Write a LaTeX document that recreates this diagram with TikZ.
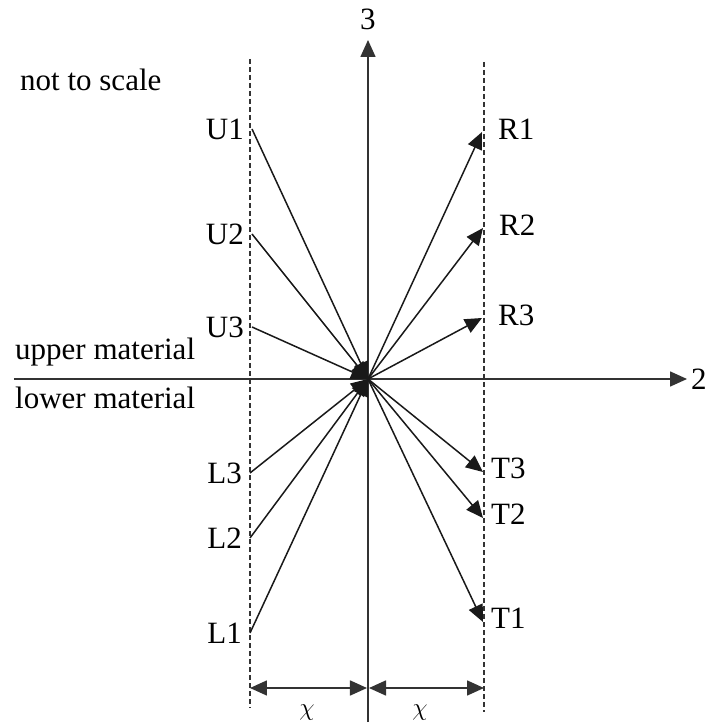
\documentclass[tikz,border=0pt]{standalone}
\usepackage{fontspec}
\setmainfont{Liberation Serif}
\usepackage{tikz}
\usetikzlibrary{arrows.meta,positioning}

\begin{document}
\begin{tikzpicture}[
  x=1pt, y=1pt,
  font=\fontsize{31}{35}\selectfont,
  axis/.style={draw=black!80, line width=1.6pt, -{Triangle[length=17pt,width=15pt]}},
  vec/.style={draw=black!90, line width=1.5pt, -{Triangle[length=17pt,width=15pt]}},
  guide/.style={draw=black!80, line width=1.4pt, dash pattern=on 5pt off 3pt},
  dim/.style={draw=black!80, line width=1.6pt, {Triangle[length=17pt,width=15pt]}-{Triangle[length=17pt,width=15pt]}},
  lbl/.style={inner sep=1pt}
]
  \useasboundingbox (-368,-349) rectangle (340,379);
  \coordinate (O) at (0,0);
  % axes
  \coordinate (ax3a) at (0,-343);
  \coordinate (ax3b) at (0,339);
  \coordinate (ax2a) at (-354,0);
  \coordinate (ax2b) at (319,0);
  \draw[axis] (ax3a) -- (ax3b);
  \draw[axis] (ax2a) -- (ax2b);
  \node[lbl] (n3) at (0,360) {3};
  \node[lbl, anchor=west] (n2) at (322,0) {2};
  % guide lines at +-chi
  \coordinate (gla) at (-118,320);
  \coordinate (glb) at (-118,-329);
  \coordinate (gra) at (116,317);
  \coordinate (grb) at (116,-333);
  \draw[guide] (gla) -- (glb);
  \draw[guide] (gra) -- (grb);
  % incident waves
  \coordinate (U1) at (-116,250);
  \coordinate (U2) at (-116,145);
  \coordinate (U3) at (-116,52);
  \coordinate (L3) at (-118,-94);
  \coordinate (L2) at (-118,-159);
  \coordinate (L1) at (-118,-254);
  % outgoing waves
  \coordinate (R1) at (114,247);
  \coordinate (R2) at (115,151);
  \coordinate (R3) at (114,61);
  \coordinate (T3) at (115,-93);
  \coordinate (T2) at (115,-139);
  \coordinate (T1) at (115,-243);
  \foreach \s in {U1,U2,U3,L1,L2,L3} {
    \draw[vec] (\s) -- (O);
    \node[lbl, anchor=east] at ([xshift=-7pt]\s) {\s};
  }
  \foreach \s in {R1,R2,R3} {
    \draw[vec] (O) -- (\s);
    \node[lbl, anchor=west] at ([xshift=15pt,yshift=3pt]\s) {\s};
  }
  \foreach \s in {T1,T2,T3} {
    \draw[vec] (O) -- (\s);
    \node[lbl, anchor=west] at ([xshift=7pt,yshift=4pt]\s) {\s};
  }
  % spacing chi
  \coordinate (dl) at (-118,-309);
  \coordinate (dm) at (0,-309);
  \coordinate (dr) at (116,-309);
  \draw[dim] (dl) -- ([xshift=-1pt]dm);
  \draw[dim] ([xshift=1pt]dm) -- (dr);
  \node[lbl] (chil) at (-61,-334) {$\chi$};
  \node[lbl] (chir) at (52,-334) {$\chi$};
  % texts
  \node[lbl, anchor=west] (nts) at (-349,299) {not to scale};
  \node[lbl, anchor=west] (upm) at (-354,27) {upper material};
  \node[lbl, anchor=west] (lwm) at (-354,-19) {lower material};
\end{tikzpicture}
\end{document}
